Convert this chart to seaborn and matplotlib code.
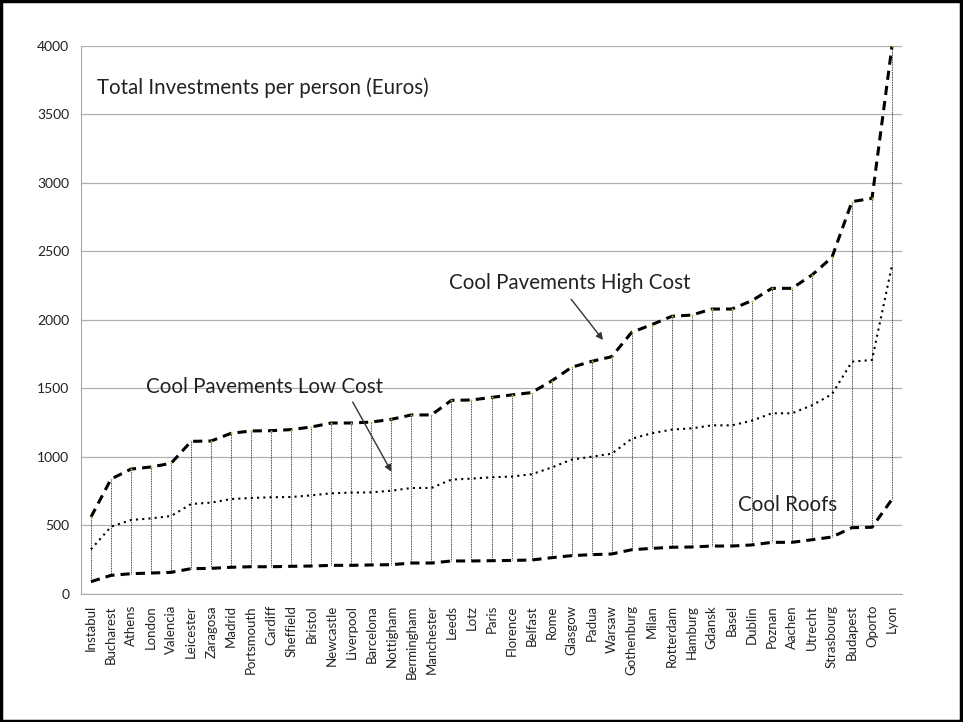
import pandas as pd
import matplotlib.pyplot as plt
import seaborn as sns
from matplotlib.patches import Rectangle

# --------------------------- DATA ---------------------------

cities = ["Instabul", "Bucharest", "Athens", "London", "Valencia", "Leicester",
          "Zaragosa", "Madrid", "Portsmouth", "Cardiff", "Sheffield", "Bristol",
          "Newcastle", "Liverpool", "Barcelona", "Nottigham", "Bermingham",
          "Manchester", "Leeds", "Lotz", "Paris", "Florence", "Belfast", "Rome",
          "Glasgow", "Padua", "Warsaw", "Gothenburg", "Milan", "Rotterdam",
          "Hamburg", "Gdansk", "Basel", "Dublin", "Poznan", "Aachen", "Utrecht",
          "Strasbourg", "Budapest", "Oporto", "Lyon"]

high_cost = [562, 839, 912, 927, 954, 1114, 1117, 1173, 1190, 1192, 1200, 1219,
             1248, 1248, 1255, 1275, 1307, 1307, 1414, 1416, 1435, 1453, 1470, 1555,
             1655, 1698, 1732, 1910, 1966, 2027, 2036, 2080, 2080, 2141, 2231, 2231,
             2328, 2457, 2864, 2888, 4000]

low_cost = [326, 491, 540, 552, 569, 657, 667, 693, 701, 706, 708, 720,
            735, 740, 742, 754, 774, 774, 835, 842, 852, 857, 874, 923,
            981, 1002, 1024, 1133, 1173, 1200, 1209, 1231, 1231, 1265, 1319, 1319,
            1377, 1458, 1696, 1708, 2400]

cool_roofs = [90, 136, 148, 153, 158, 185, 187, 195, 199, 199, 202, 204,
              209, 209, 212, 214, 226, 226, 241, 241, 243, 245, 248, 265,
              280, 287, 292, 323, 333, 341, 343, 350, 350, 358, 377, 377,
              396, 416, 484, 487, 691]

y_ticks = [0, 500, 1000, 1500, 2000, 2500, 3000, 3500, 4000]

df = pd.DataFrame({"city": cities, "high": high_cost, "low": low_cost, "roofs": cool_roofs})
df["x"] = range(len(df))

# --------------------------- PLOT ---------------------------

sns.set_style("white")
plt.rcParams["font.family"] = ["Lato", "DejaVu Sans"]

fig = plt.figure(figsize=(9.63, 7.22), dpi=100)
ax = fig.add_axes([0.0841, 0.1773, 0.8526, 0.759])

# high-low lines
ax.vlines(df["x"], df["roofs"], df["high"], colors="black", linestyles=(0, (1, 1)),
          linewidth=0.6, zorder=2)

sns.lineplot(data=df, x="x", y="high", ax=ax, color="black", linewidth=2.2, zorder=3)
ax.lines[-1].set_linestyle((0, (3, 2)))
sns.lineplot(data=df, x="x", y="low", ax=ax, color="black", linewidth=1.5, zorder=3)
ax.lines[-1].set_linestyle((0, (1, 2)))
sns.lineplot(data=df, x="x", y="roofs", ax=ax, color="black", linewidth=2.2, zorder=3)
ax.lines[-1].set_linestyle((0, (3, 2)))

ax.scatter(df["x"], df["high"], s=2, color="#9acd32", zorder=4, linewidths=0)

ax.set_xlim(-0.5, len(cities) - 0.5)
ax.set_ylim(0, 4000)
ax.set_yticks(y_ticks)
ax.set_xticks(df["x"])
ax.set_xticklabels(cities, rotation=90, fontsize=9.5, color="#222222")
ax.tick_params(axis="x", length=0, pad=8)
ax.tick_params(axis="y", labelsize=10, colors="#222222", length=5, color="#aaaaaa")
# tick marks between categories
ax.set_xticks([i - 0.5 for i in range(len(cities) + 1)], minor=True)
ax.tick_params(axis="x", which="minor", length=5, color="#aaaaaa")
ax.set_xlabel("")
ax.set_ylabel("")

ax.grid(axis="y", color="#b0b0b0", linewidth=0.9)
ax.set_axisbelow(True)
for side in ["top", "right"]:
    ax.spines[side].set_visible(False)
for side in ["left", "bottom"]:
    ax.spines[side].set_color("#aaaaaa")

# --------------------------- ANNOTATIONS ---------------------------

label_kw = dict(fontsize=14.8, color="#222222", va="center")
arrow_kw = dict(arrowstyle="-|>", color="#333333", lw=1, shrinkA=0, shrinkB=0,
                mutation_scale=10)

ax.text(0.3, 3693, "Total Investments per person (Euros)", ha="left", **label_kw)

ax.text(23.93, 2270, "Cool Pavements High Cost", ha="center", **label_kw)
ax.annotate("", xy=(25.57, 1854), xytext=(23.98, 2151), arrowprops=arrow_kw)

ax.text(8.69, 1511, "Cool Pavements Low Cost", ha="center", **label_kw)
ax.annotate("", xy=(15.0, 893), xytext=(13.07, 1401), arrowprops=arrow_kw)

ax.text(34.8, 650, "Cool Roofs", ha="center", **label_kw)

# outer border
fig.patches.append(Rectangle((0.001, 0.001), 0.997, 0.997, transform=fig.transFigure,
                             fill=False, edgecolor="black", linewidth=2.5))

fig.savefig("out.png", dpi=100)
